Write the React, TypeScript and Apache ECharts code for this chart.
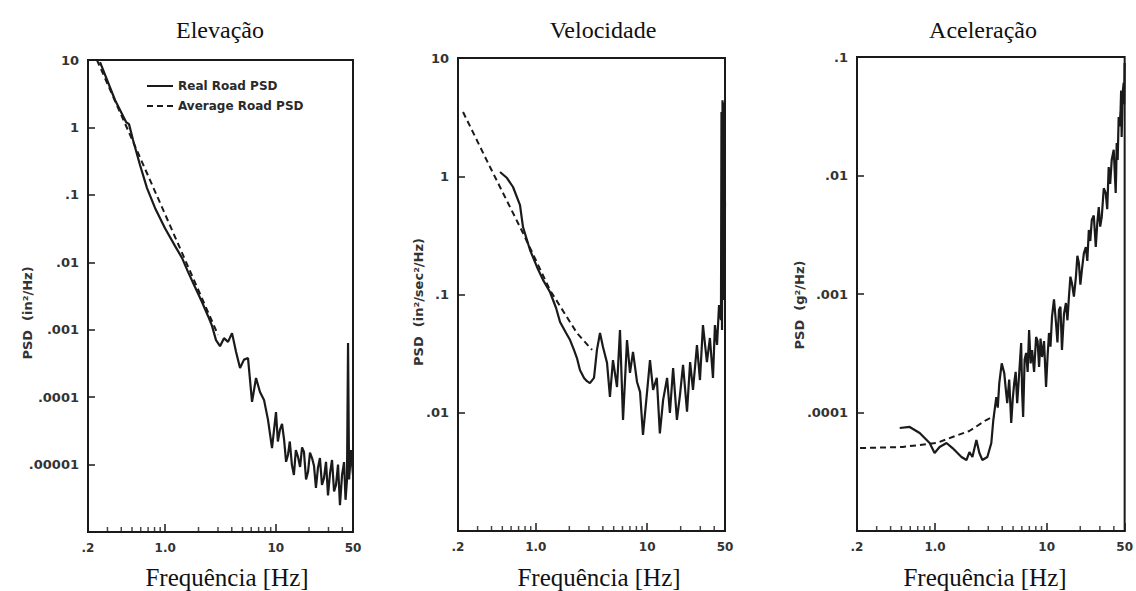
import React, { useEffect, useRef } from "react";
import * as echarts from "echarts";

// ---------- data ----------
const panelTitles = ["Elevação", "Velocidade", "Aceleração"];
const xTitle = "Frequência [Hz]";
const yNames = ["PSD  (in²/Hz)", "PSD  (in²/sec²/Hz)", "PSD  (g²/Hz)"];
const legendNames = ["Real Road PSD", "Average Road PSD"];

const xMin = 0.2;
const xMax = 50;
const yMins = [1e-6, 1e-3, 1e-5];
const yMaxs = [10, 10, 0.1];

const minorTickFreqs = [0.3, 0.4, 0.5, 0.6, 0.7, 0.8, 0.9, 2, 3, 4, 5, 6, 7, 8, 9, 20, 30, 40];

// Elevação
const elevRealFreq = [0.257, 0.351, 0.442, 0.47, 0.511, 0.591, 0.684, 0.808, 0.995, 1.225, 1.418, 1.607, 1.859, 2.15, 2.437, 2.65, 2.88, 3.13, 3.4, 3.7, 4.02, 4.37, 4.75, 5.16, 5.61, 6.1, 6.63, 7.2, 7.83, 8.51, 9.25, 10.05, 10.45, 10.9, 11.4, 11.9, 12.4, 12.9, 13.4, 14.0, 14.6, 15.2, 15.9, 16.6, 17.3, 18.0, 18.8, 19.6, 20.4, 21.3, 22.2, 23.1, 24.1, 25.1, 26.2, 27.3, 28.5, 29.7, 31.0, 32.3, 33.7, 35.1, 36.6, 38.1, 39.8, 41.5, 42.8, 44.1, 45.1, 46.1, 48.0, 50];
const elevReal = [9.3, 2.55, 1.2, 1.12, 0.65, 0.277, 0.126, 0.064, 0.032, 0.0175, 0.0116, 0.0072, 0.0043, 0.00258, 0.0016, 0.00114, 0.0007, 0.00057, 0.00075, 0.00066, 0.00089, 0.00047, 0.00027, 0.00036, 0.00038, 8.5e-5, 1.92e-4, 1.19e-4, 9.1e-5, 4.6e-5, 1.76e-5, 6.0e-5, 2.2e-5, 3.26e-5, 4.0e-5, 2.32e-5, 1.1e-5, 1.39e-5, 2.2e-5, 9.9e-6, 7.0e-6, 1.64e-5, 1.3e-5, 9.2e-6, 1.8e-5, 1.54e-5, 6.0e-6, 7.8e-6, 1.5e-5, 1.25e-5, 9.5e-6, 4.5e-6, 9.0e-6, 1.25e-5, 5.0e-6, 6.3e-6, 1.1e-5, 3.5e-6, 7.5e-6, 1.17e-5, 4.0e-6, 5.0e-6, 1.0e-5, 2.5e-6, 7.0e-6, 1.09e-5, 3.0e-6, 5.9e-6, 6.35e-4, 6.0e-6, 1.64e-5, 7.0e-6];
const elevAvgFreq = [0.241, 1.0, 3.0];
const elevAvg = [10, 0.051, 0.00084];

// Velocidade
const velRealFreq = [0.477, 0.551, 0.624, 0.721, 0.767, 0.887, 1.024, 1.16, 1.34, 1.52, 1.65, 1.87, 2.03, 2.2, 2.34, 2.49, 2.71, 2.88, 3.06, 3.33, 3.54, 3.77, 4.01, 4.36, 4.63, 4.93, 5.36, 5.7, 6.07, 6.59, 7.01, 7.46, 8.11, 8.63, 9.17, 9.96, 10.6, 11.3, 12.2, 13.0, 13.9, 15.1, 16.0, 17.1, 18.5, 19.7, 21.0, 22.8, 24.3, 25.8, 28.0, 29.8, 31.7, 34.4, 36.6, 39.0, 40.6, 42.4, 44.2, 46.0, 46.5, 47.0, 47.5, 48.0, 48.5, 49.0, 49.3, 49.6, 50];
const velReal = [1.086, 0.966, 0.811, 0.571, 0.372, 0.238, 0.171, 0.133, 0.105, 0.0769, 0.0585, 0.0472, 0.0412, 0.034, 0.029, 0.023, 0.0197, 0.0185, 0.0178, 0.0197, 0.034, 0.0472, 0.036, 0.0264, 0.0136, 0.0279, 0.0165, 0.0501, 0.0087, 0.0412, 0.0217, 0.0327, 0.0182, 0.015, 0.0065, 0.0147, 0.0279, 0.0156, 0.0197, 0.0067, 0.0128, 0.0197, 0.00995, 0.0239, 0.0087, 0.0141, 0.0254, 0.0102, 0.0268, 0.0156, 0.0374, 0.0189, 0.0552, 0.0268, 0.0429, 0.0197, 0.0552, 0.0374, 0.0815, 0.0608, 3.5, 0.05, 4.4, 0.09, 3.0, 0.15, 4.2, 0.3, 0.6];
const velAvgFreq = [0.222, 0.388, 0.767, 1.34, 2.34, 3.2];
const velAvg = [3.49, 1.197, 0.331, 0.109, 0.0472, 0.034];

// Aceleração
const accRealFreq = [0.483, 0.593, 0.729, 0.895, 0.991, 1.099, 1.268, 1.435, 1.726, 1.912, 2.034, 2.163, 2.348, 2.497, 2.656, 2.943, 3.195, 3.329, 3.54, 3.65, 3.765, 3.96, 4.172, 4.3, 4.436, 4.62, 4.816, 4.97, 5.122, 5.28, 5.447, 5.67, 5.912, 6.03, 6.16, 6.35, 6.552, 6.76, 6.967, 7.19, 7.412, 7.72, 8.044, 8.3, 8.557, 8.82, 9.1, 9.48, 9.88, 10.2, 10.5, 10.83, 11.17, 11.64, 12.13, 12.5, 12.9, 13.3, 13.72, 14.3, 14.89, 15.36, 15.84, 16.33, 16.84, 17.55, 18.29, 18.86, 19.45, 20.06, 20.69, 21.55, 22.45, 23.15, 23.88, 24.6, 25.39, 26.45, 27.56, 28.4, 29.31, 30.2, 31.18, 32.5, 33.84, 34.9, 35.98, 37.1, 38.28, 39.9, 41.56, 42.0, 42.43, 43.3, 44.2, 45.1, 46.0, 46.5, 47.0, 48.0, 49.0, 49.5, 50];
const accReal = [7.4e-5, 7.55e-5, 6.71e-5, 5.53e-5, 4.55e-5, 5.12e-5, 5.53e-5, 5.01e-5, 4.21e-5, 3.97e-5, 4.64e-5, 4.21e-5, 5.86e-5, 4.55e-5, 3.97e-5, 4.21e-5, 5.53e-5, 8.64e-5, 1.35e-4, 1.1e-4, 1.77e-4, 2.6e-4, 2.15e-4, 1.6e-4, 1.2e-4, 1.9e-4, 8.15e-5, 1.3e-4, 1.77e-4, 2.2e-4, 1.2e-4, 2.1e-4, 3.86e-4, 1.5e-4, 9.16e-5, 2.8e-4, 3.18e-4, 2.2e-4, 4.97e-4, 2.6e-4, 3.37e-4, 2.2e-4, 4.34e-4, 4.0e-4, 2.42e-4, 4.2e-4, 2.94e-4, 4.0e-4, 1.64e-4, 3.0e-4, 4.69e-4, 3.6e-4, 6.4e-4, 9.0e-4, 5.69e-4, 3.9e-4, 7.33e-4, 7.8e-4, 3.37e-4, 6.8e-4, 8.39e-4, 6.0e-4, 9.44e-4, 1.4e-3, 1.24e-3, 9.5e-4, 1.39e-3, 2.1e-3, 1.83e-3, 1.2e-3, 1.59e-3, 2.2e-3, 2.49e-3, 1.9e-3, 3.47e-3, 2.8e-3, 4.21e-3, 4.6e-3, 2.49e-3, 3.9e-3, 5.42e-3, 3.7e-3, 4.47e-3, 7.8e-3, 7.11e-3, 5.2e-3, 0.0118, 8.5e-3, 0.0135, 0.0165, 7.11e-3, 0.0105, 0.0188, 0.0135, 0.0312, 0.026, 0.0357, 0.052, 0.0211, 0.05, 0.0604, 0.04, 0.089];
const accAvgFreq = [0.213, 0.514, 1.033, 1.435, 2.03, 2.88, 3.4];
const accAvg = [5.01e-5, 5.12e-5, 5.53e-5, 6.21e-5, 6.98e-5, 8.64e-5, 9.34e-5];

// ---------- layout ----------
const grids = [
  { left: 88, top: 60, width: 265, height: 472 },
  { left: 458, top: 58, width: 267, height: 473 },
  { left: 857, top: 57, width: 269, height: 474 },
];
const titleCenters = [220, 603, 983];
const xTitleCenters = [227, 599, 985];
const yNamePos = [
  [27, 313],
  [418, 302],
  [799, 305],
];

const INK = "#1a1a1a";
const LABEL_FONT = "DejaVu Sans";

const zip = (xs: number[], ys: number[]) => xs.map((x, i) => [x, ys[i]]);

const fmtX = (v: number) => {
  if (Math.abs(v - 1) < 1e-6) return "1.0";
  if (v < 1) return "." + Math.round(v * 10);
  return String(Math.round(v));
};
const fmtY = (v: number) => {
  if (v >= 1) return String(Math.round(v));
  const n = Math.round(-Math.log10(v));
  return v.toFixed(n).replace(/^0/, "");
};

export default function App() {
  const ref = useRef<HTMLDivElement>(null);
  useEffect(() => {
    if (!ref.current) return;
    const chart = echarts.init(ref.current, undefined, { renderer: "svg" });

    const realSets = [zip(elevRealFreq, elevReal), zip(velRealFreq, velReal), zip(accRealFreq, accReal)];
    const avgSets = [zip(elevAvgFreq, elevAvg), zip(velAvgFreq, velAvg), zip(accAvgFreq, accAvg)];

    const series: any[] = [];
    for (let i = 0; i < 3; i++) {
      series.push({
        name: legendNames[0],
        type: "line",
        xAxisIndex: i,
        yAxisIndex: i,
        data: realSets[i],
        symbol: "none",
        showSymbol: false,
        lineStyle: { color: INK, width: 2.2 },
        itemStyle: { color: INK },
        z: 3,
      });
      series.push({
        name: legendNames[1],
        type: "line",
        xAxisIndex: i,
        yAxisIndex: i,
        data: avgSets[i],
        symbol: "none",
        showSymbol: false,
        lineStyle: { color: INK, width: 2, type: [6, 4] },
        itemStyle: { color: INK },
        z: 2,
      });
      series.push({
        name: "minorTicks" + i,
        type: "scatter",
        xAxisIndex: i,
        yAxisIndex: i,
        data: minorTickFreqs.map((f) => [f, yMins[i]]),
        symbol: "rect",
        symbolSize: [1.5, 5],
        symbolOffset: [0, -2.5],
        itemStyle: { color: INK },
        silent: true,
        clip: false,
      });
    }

    const graphic: any[] = [];
    for (let i = 0; i < 3; i++) {
      graphic.push({
        type: "text",
        x: titleCenters[i],
        y: 30,
        style: {
          text: panelTitles[i],
          font: '24px "Liberation Serif", serif',
          fill: "#111",
          align: "center",
          verticalAlign: "middle",
        },
      });
      graphic.push({
        type: "text",
        x: xTitleCenters[i],
        y: 577,
        style: {
          text: xTitle,
          font: '25px "Liberation Serif", serif',
          fill: "#111",
          align: "center",
          verticalAlign: "middle",
        },
      });
      graphic.push({
        type: "text",
        x: yNamePos[i][0],
        y: yNamePos[i][1],
        rotation: Math.PI / 2,
        style: {
          text: yNames[i],
          font: 'bold 13px "DejaVu Sans", sans-serif',
          fill: "#333",
          align: "center",
          verticalAlign: "middle",
        },
      });
    }

    chart.setOption({
      animation: false,
      backgroundColor: "#ffffff",
      grid: grids.map((g) => ({
        ...g,
        show: true,
        borderColor: INK,
        borderWidth: 2,
        backgroundColor: "transparent",
        containLabel: false,
      })),
      legend: {
        data: legendNames,
        left: 141,
        top: 75,
        orient: "vertical",
        itemWidth: 26,
        itemHeight: 10,
        itemGap: 8,
        selectedMode: false,
        itemStyle: { opacity: 0 },
        textStyle: { fontFamily: LABEL_FONT, fontSize: 12, fontWeight: "bold", color: "#2a2a2a" },
      },
      xAxis: grids.map((_, i) => ({
        type: "log",
        logBase: 10,
        gridIndex: i,
        min: xMin,
        max: xMax,
        axisLine: { show: true, lineStyle: { color: INK, width: 2 } },
        axisTick: { show: true, inside: true, length: 8, lineStyle: { color: INK, width: 1.5 } },
        axisLabel: {
          showMinLabel: true,
          showMaxLabel: true,
          formatter: fmtX,
          fontFamily: LABEL_FONT,
          fontSize: 12,
          fontWeight: "bold",
          color: "#333",
          margin: 10,
        },
        splitLine: { show: false },
      })),
      yAxis: grids.map((_, i) => ({
        type: "log",
        logBase: 10,
        gridIndex: i,
        min: yMins[i],
        max: yMaxs[i],
        axisLine: { show: true, lineStyle: { color: INK, width: 2 } },
        axisTick: { show: true, inside: true, length: 7, lineStyle: { color: INK, width: 1.5 } },
        axisLabel: {
          showMinLabel: false,
          showMaxLabel: true,
          formatter: fmtY,
          fontFamily: LABEL_FONT,
          fontSize: 13,
          fontWeight: "bold",
          color: "#333",
          margin: 9,
        },
        splitLine: { show: false },
      })),
      series,
      graphic,
    });

    return () => chart.dispose();
  }, []);

  return (
    <div
      ref={ref}
      style={{ position: "absolute", left: 0, top: 0, width: 1136, height: 591 }}
    />
  );
}
